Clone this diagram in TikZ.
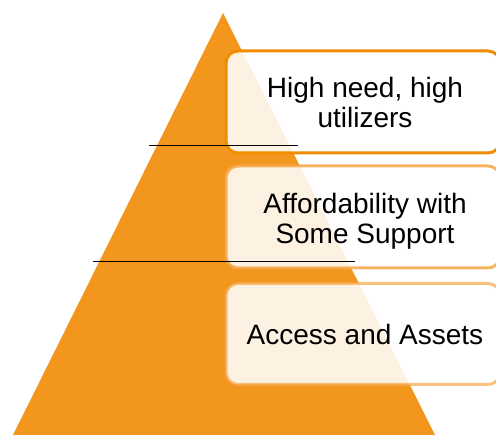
\documentclass[tikz,border=0pt]{standalone}
\usepackage{fontspec}
\setmainfont{Liberation Sans}
\definecolor{pyr}{HTML}{F2961E}
\definecolor{edgeA}{HTML}{F08C00}
\definecolor{edgeB}{HTML}{F5A848}
\tikzset{
  tier/.style={rectangle, rounded corners=12pt, fill=white, fill opacity=0.87,
    line width=3pt, minimum width=274pt, inner sep=0pt},
  label/.style={font=\fontsize{28}{30}\selectfont, align=center, text=black, inner sep=0pt},
  divider/.style={line width=1.8pt, draw=black}
}
\begin{document}
\begin{tikzpicture}[x=1pt,y=-1pt]
\useasboundingbox (0,0) rectangle (496,435);
\clip (0,0) rectangle (496,435);
\fill[pyr] (223,13) -- (435,435) -- (13,435) -- cycle;
\node[tier, draw=edgeA, minimum height=102pt] (b1) at (363,102) {};
\node[tier, draw=edgeB, draw opacity=0.85, minimum height=102pt] (b2) at (363,217) {};
\node[tier, draw=edgeB, draw opacity=0.7, minimum height=101pt] (b3) at (363,334) {};
\node[label] (t1) at ([xshift=2pt]b1.center) {High need, high\\utilizers};
\node[label] (t2) at ([xshift=2pt,yshift=-4pt]b2.center) {Affordability with\\Some Support};
\node[label] (t3) at ([xshift=2pt]b3.center) {Access and Assets};
\coordinate (l1a) at (149,145.5);
\coordinate (l1b) at (298,145.5);
\coordinate (l2a) at (93,261.5);
\coordinate (l2b) at (355,261.5);
\draw[divider] (l1a) -- (l1b);
\draw[divider] (l2a) -- (l2b);
\end{tikzpicture}
\end{document}
